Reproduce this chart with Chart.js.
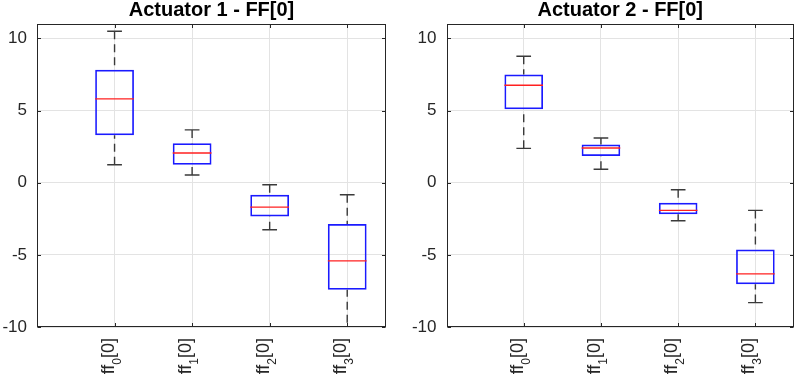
<!DOCTYPE html>
<html>
<head>
<meta charset="utf-8">
<script src="https://cdn.jsdelivr.net/npm/chart.js@4/dist/chart.umd.min.js"></script>
<style>
  html, body { margin: 0; padding: 0; background: #ffffff; }
  #wrap { position: relative; width: 796px; height: 378px; overflow: hidden; }
  canvas { position: absolute; top: 0; }
</style>
</head>
<body>
<div id="wrap">
  <canvas id="c1" width="398" height="378" style="left:0px"></canvas>
  <canvas id="c2" width="398" height="378" style="left:398px"></canvas>
</div>
<script>
// ---------------- data ----------------
const categories = ['ff_0[0]', 'ff_1[0]', 'ff_2[0]', 'ff_3[0]'];
const yTicks = [-10, -5, 0, 5, 10];
const titles = ['Actuator 1 - FF[0]', 'Actuator 2 - FF[0]'];

// Actuator 1
const a1Upper  = [10.50, 3.66, -0.14, -0.83];
const a1Q3     = [7.83, 2.73, -0.83, -2.87];
const a1Median = [5.81, 2.06, -1.69, -5.42];
const a1Q1     = [3.29, 1.25, -2.34, -7.41];
const a1Lower  = [1.25, 0.53, -3.26, -10.60];

// Actuator 2
const a2Upper  = [8.77, 3.10, -0.49, -1.92];
const a2Q3     = [7.50, 2.64, -1.39, -4.63];
const a2Median = [6.76, 2.41, -1.92, -6.32];
const a2Q1     = [5.09, 1.85, -2.18, -7.04];
const a2Lower  = [2.38, 0.93, -2.64, -8.31];

// ---------------- styling ----------------
const FONT = "'Liberation Sans', Arial, Helvetica, sans-serif";
const AXIS_COLOR = '#262626';
const GRID_COLOR = '#e3e3e3';
const BOX_HALF = 0.25;
const CAP_HALF = 0.095;

function segments(pairs) {
  const out = [];
  pairs.forEach((p, i) => {
    if (i > 0) out.push({ x: p[0].x, y: null });
    out.push(p[0], p[1]);
  });
  return out;
}

const framePlugin = {
  id: 'frame',
  afterDraw(chart) {
    const { ctx, chartArea: a, scales } = chart;
    ctx.save();
    ctx.strokeStyle = AXIS_COLOR;
    ctx.lineWidth = 1;
    const L = Math.round(a.left) + 0.5, R = Math.round(a.right) - 0.5;
    const T = Math.round(a.top) + 0.5, B = Math.round(a.bottom) - 0.5;
    ctx.strokeRect(L, T, R - L, B - T);
    // inward tick marks (mirrored)
    const tl = 3.5;
    ctx.beginPath();
    scales.y.ticks.forEach(t => {
      const y = Math.round(scales.y.getPixelForValue(t.value)) + 0.5;
      ctx.moveTo(L, y); ctx.lineTo(L + tl, y);
      ctx.moveTo(R, y); ctx.lineTo(R - tl, y);
    });
    scales.x.ticks.forEach(t => {
      const x = Math.round(scales.x.getPixelForValue(t.value)) + 0.5;
      ctx.moveTo(x, B); ctx.lineTo(x, B - tl);
      ctx.moveTo(x, T); ctx.lineTo(x, T + tl);
    });
    ctx.stroke();

    // x tick labels with subscripts, rotated 90 degrees
    const mainFont = '18px ' + FONT;
    const subFont = '12px ' + FONT;
    ctx.fillStyle = AXIS_COLOR;
    ctx.textBaseline = 'alphabetic';
    ctx.textAlign = 'left';
    scales.x.ticks.forEach((t, i) => {
      const label = categories[i];
      const m = label.match(/^(.*?)_(.)(.*)$/);
      const parts = m ? [[m[1], mainFont, 0], [m[2], subFont, 7]] .concat([[m[3], mainFont, 0]]) : [[label, mainFont, 0]];
      let total = 0;
      const widths = parts.map(p => { ctx.font = p[1]; const w = ctx.measureText(p[0]).width; total += w; return w; });
      const px = scales.x.getPixelForValue(t.value);
      ctx.save();
      ctx.translate(px, a.bottom + 11);
      ctx.rotate(-Math.PI / 2);
      let x0 = -total;
      parts.forEach((p, k) => {
        ctx.font = p[1];
        ctx.fillText(p[0], x0, -1 + p[2]);
        x0 += widths[k];
      });
      ctx.restore();
    });
    ctx.restore();
  }
};

function makeChart(id, title, upper, q3, median, q1, lower, yAxisWidth, padRight) {
  const xs = categories.map((_, i) => i + 1);
  const boxData = xs.map((x, i) => ({ x: x, y: [q1[i], q3[i]] }));
  const medData = segments(xs.map((x, i) => [{ x: x - BOX_HALF, y: median[i] }, { x: x + BOX_HALF, y: median[i] }]));
  const whiskUp = segments(xs.map((x, i) => [{ x: x, y: upper[i] }, { x: x, y: q3[i] }]));
  const whiskLo = segments(xs.map((x, i) => [{ x: x, y: lower[i] }, { x: x, y: q1[i] }]));
  const caps = segments(xs.flatMap((x, i) => [
    [{ x: x - CAP_HALF, y: upper[i] }, { x: x + CAP_HALF, y: upper[i] }],
    [{ x: x - CAP_HALF, y: lower[i] }, { x: x + CAP_HALF, y: lower[i] }]
  ]));

  const lineCommon = { type: 'line', pointRadius: 0, pointHoverRadius: 0, spanGaps: false, fill: false, tension: 0 };

  return new Chart(document.getElementById(id), {
    type: 'bar',
    data: {
      datasets: [
        Object.assign({}, lineCommon, { data: medData, borderColor: '#ff2020', borderWidth: 1.4, order: 0 }),
        { type: 'bar', data: boxData, backgroundColor: 'rgba(0,0,0,0)', borderColor: '#1a1aff', borderWidth: 1.7,
          borderSkipped: false, categoryPercentage: 1, barPercentage: 0.5, order: 3 },
        Object.assign({}, lineCommon, { data: whiskUp, borderColor: '#3a3a3a', borderWidth: 1.4, borderDash: [8, 5], order: 2 }),
        Object.assign({}, lineCommon, { data: whiskLo, borderColor: '#3a3a3a', borderWidth: 1.4, borderDash: [8, 5], order: 2 }),
        Object.assign({}, lineCommon, { data: caps, borderColor: '#3a3a3a', borderWidth: 1.4, order: 1 })
      ]
    },
    options: {
      responsive: false,
      animation: false,
      devicePixelRatio: 1,
      layout: { padding: { left: 0, right: padRight, top: 0, bottom: 0 } },
      plugins: {
        legend: { display: false },
        tooltip: { enabled: false },
        title: {
          display: true, text: title, fullSize: false, color: '#000000',
          font: { family: FONT, size: 20, weight: 'bold', lineHeight: 1.0 },
          padding: { top: 0, bottom: 4 }
        }
      },
      scales: {
        x: {
          type: 'linear', min: 0, max: 4.5, offset: false,
          afterBuildTicks: s => { s.ticks = categories.map((_, i) => ({ value: i + 1 })); },
          afterFit: s => { s.height = 51; },
          grid: { color: GRID_COLOR, lineWidth: 1, drawTicks: false, offset: false },
          border: { display: false },
          ticks: { display: false }
        },
        y: {
          type: 'linear', min: -10, max: 11,
          afterBuildTicks: s => { s.ticks = yTicks.map(v => ({ value: v })); },
          afterFit: s => { s.width = yAxisWidth; },
          grid: { color: GRID_COLOR, lineWidth: 1, drawTicks: false },
          border: { display: false },
          ticks: { color: AXIS_COLOR, padding: 10, font: { family: FONT, size: 17 }, callback: v => String(v) }
        }
      }
    },
    plugins: [framePlugin]
  });
}

makeChart('c1', titles[0], a1Upper, a1Q3, a1Median, a1Q1, a1Lower, 37, 12);
makeChart('c2', titles[1], a2Upper, a2Q3, a2Median, a2Q1, a2Lower, 48.5, 2);
</script>
</body>
</html>
